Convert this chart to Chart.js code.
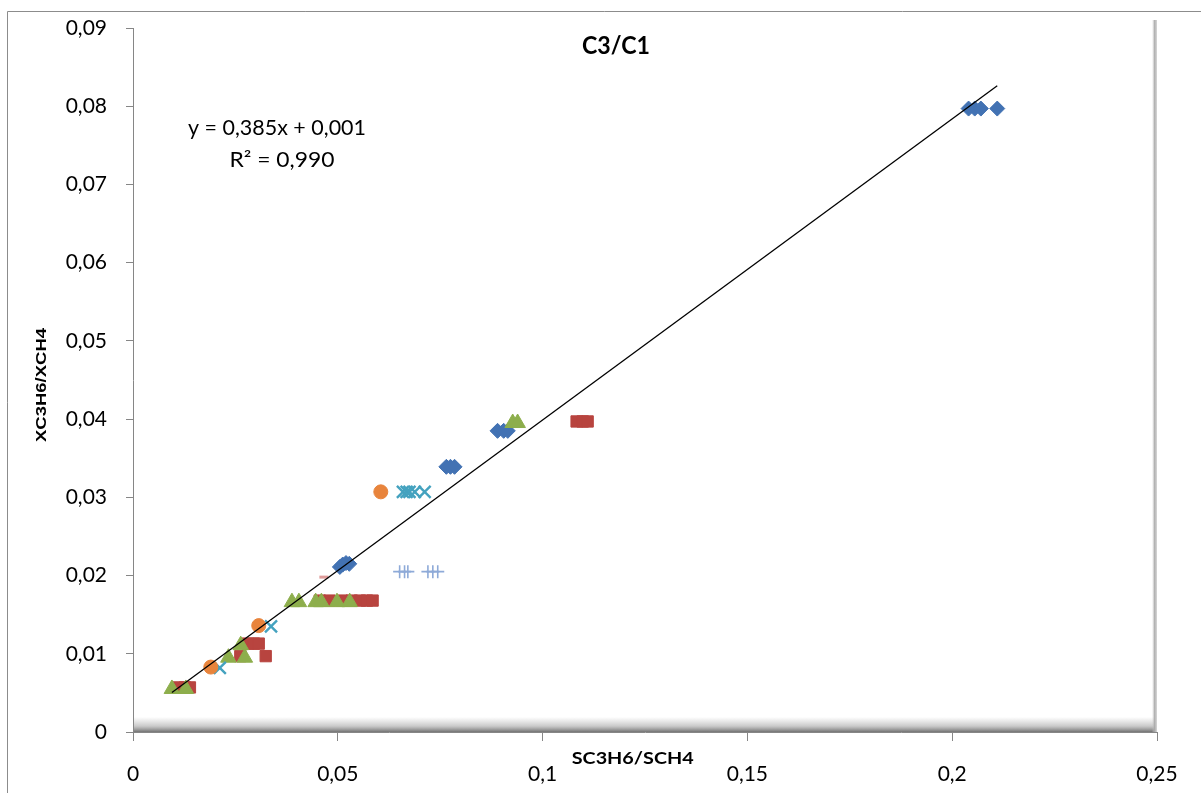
<!DOCTYPE html>
<html>
<head>
<meta charset="utf-8">
<title>C3/C1</title>
<script src="https://cdn.jsdelivr.net/npm/chart.js@4.4.1/dist/chart.umd.min.js"></script>
<style>
  html, body { margin: 0; padding: 0; background: #fff; }
  #wrap { width: 1201px; height: 793px; }
</style>
</head>
<body>
<div id="wrap"><canvas id="myChart" width="1201" height="793"></canvas></div>
<script>
// series values (x = SC3H6/SCH4, y = XC3H6/XCH4)
const blueX = [0.204, 0.2055, 0.207, 0.211, 0.089, 0.0905, 0.0915, 0.0765, 0.0775, 0.0785, 0.0505, 0.0512, 0.052, 0.0528];
const blueY = [0.0797, 0.0797, 0.0797, 0.0797, 0.0385, 0.0385, 0.0385, 0.0339, 0.0339, 0.0339, 0.0211, 0.0214, 0.0216, 0.0215];

const redX = [0.1083, 0.1098, 0.111, 0.0456, 0.048, 0.051, 0.0534, 0.0554, 0.0571, 0.0585, 0.028, 0.0295, 0.0307, 0.0262, 0.0324, 0.011, 0.0127, 0.0139];
const redY = [0.0397, 0.0397, 0.0397, 0.0168, 0.0168, 0.0168, 0.0168, 0.0168, 0.0168, 0.0168, 0.0113, 0.0113, 0.0113, 0.0097, 0.0097, 0.0057, 0.0057, 0.0057];

const greenX = [0.0927, 0.0939, 0.0388, 0.0405, 0.0446, 0.046, 0.0498, 0.0529, 0.0263, 0.0233, 0.0273, 0.0095, 0.0129];
const greenY = [0.0395, 0.0395, 0.0166, 0.0166, 0.0166, 0.0166, 0.0166, 0.0166, 0.0111, 0.0095, 0.0095, 0.0055, 0.0055];

const aquaX = [0.0659, 0.0668, 0.0675, 0.0688, 0.0712, 0.0337, 0.0212];
const aquaY = [0.0307, 0.0307, 0.0307, 0.0307, 0.0307, 0.0135, 0.0082];

const orangeX = [0.0605, 0.0307, 0.019];
const orangeY = [0.0307, 0.0136, 0.0083];

const plusX = [0.0651, 0.0663, 0.0671, 0.072, 0.0732, 0.0744];
const plusY = [0.0205, 0.0205, 0.0205, 0.0205, 0.0205, 0.0205];

const dashX = [0.0466];
const dashY = [0.0198];

// linear trend y = a*x + b (shown rounded to 3 decimals)
const trendSlope = 0.3849;
const trendIntercept = 0.0014;
const trendR2 = 0.990;

const xTicks = [0, 0.05, 0.1, 0.15, 0.2, 0.25];
const yTicks = [0, 0.01, 0.02, 0.03, 0.04, 0.05, 0.06, 0.07, 0.08, 0.09];

const toPoints = (xs, ys) => xs.map((x, i) => ({ x: x, y: ys[i] }));
const comma = (v) => Number(v.toFixed(2)).toString().replace('.', ',');
const fixed3 = (v) => v.toFixed(3).replace('.', ',');

const allX = [].concat(blueX, redX, greenX, aquaX, orangeX, plusX, dashX);
const trendFrom = Math.min(...allX);
const trendTo = Math.max(...allX);
const trendLine = [trendFrom, trendTo].map((x) => ({ x: x, y: trendSlope * x + trendIntercept }));

// fits a string into a given width (canvas text, optionally rotated)
function fitText(ctx, text, cx, cy, width, font, rotate) {
  ctx.save();
  ctx.font = font;
  const w = ctx.measureText(text).width;
  ctx.translate(cx, cy);
  if (rotate) ctx.rotate(-Math.PI / 2);
  ctx.scale(width / w, 1);
  ctx.textAlign = 'center';
  ctx.textBaseline = 'middle';
  ctx.fillStyle = '#000';
  ctx.fillText(text, 0, 0);
  ctx.restore();
}

const decor = {
  id: 'decor',
  beforeDraw(chart) {
    const ctx = chart.ctx;
    ctx.save();
    ctx.fillStyle = '#fff';
    ctx.fillRect(0, 0, chart.width, chart.height);
    // outer frame
    ctx.strokeStyle = '#8c8c8c';
    ctx.lineWidth = 1;
    ctx.beginPath();
    ctx.moveTo(7.5, chart.height);
    ctx.lineTo(7.5, 11.5);
    ctx.lineTo(chart.width, 11.5);
    ctx.stroke();
    ctx.restore();
  },
  beforeDatasetsDraw(chart) {
    const ctx = chart.ctx;
    const a = chart.chartArea;
    ctx.save();
    // floor shadow
    let g = ctx.createLinearGradient(0, a.bottom - 15, 0, a.bottom);
    g.addColorStop(0, 'rgba(160,160,160,0)');
    g.addColorStop(0.6, 'rgba(150,150,150,0.5)');
    g.addColorStop(1, 'rgba(115,115,115,1)');
    ctx.fillStyle = g;
    ctx.fillRect(a.left + 1, a.bottom - 15, a.right - a.left - 1, 15);
    // right wall
    g = ctx.createLinearGradient(a.right - 5, 0, a.right, 0);
    g.addColorStop(0, 'rgba(200,200,200,0)');
    g.addColorStop(0.5, 'rgba(170,170,170,0.9)');
    g.addColorStop(1, 'rgba(215,215,215,1)');
    ctx.fillStyle = g;
    ctx.fillRect(a.right - 5, a.top - 8, 5, a.bottom - a.top + 8);
    ctx.restore();
  },
  afterDraw(chart) {
    const ctx = chart.ctx;
    const xs = chart.scales.x;
    fitText(ctx, 'C3/C1', 616, 46, 68, 'bold 24px Lato');
    fitText(ctx, 'y = ' + fixed3(trendSlope) + 'x + ' + fixed3(trendIntercept), 277, 128, 178, '21px Lato');
    fitText(ctx, 'R² = ' + fixed3(trendR2), 282, 160, 105, '21px Lato');
    fitText(ctx, 'SC3H6/SCH4', xs.getPixelForValue(0.122), 759, 122, 'bold 17px Lato');
    fitText(ctx, 'XC3H6/XCH4', 42, 385, 114, 'bold 14px "Liberation Sans"', true);
  }
};

const markerSet = (color, style, radius, extra) => Object.assign({
  pointStyle: style,
  pointRadius: radius,
  pointHoverRadius: radius,
  backgroundColor: color,
  borderColor: color,
  borderWidth: 1,
  showLine: false
}, extra || {});

const ctx = document.getElementById('myChart');

new Chart(ctx, {
  type: 'scatter',
  data: {
    datasets: [
      Object.assign({ label: 'trend', data: trendLine, order: 1 },
        { showLine: true, pointRadius: 0, borderColor: '#000', borderWidth: 1.3, backgroundColor: '#000' }),
      Object.assign({ label: 's8', data: toPoints(dashX, dashY), order: 2 }, markerSet('#df9c9a', 'line', 4.5, { borderWidth: 3 })),
      Object.assign({ label: 's7', data: toPoints(plusX, plusY), order: 3 }, markerSet('#8eaad8', 'cross', 6.5, { borderWidth: 1.6 })),
      Object.assign({ label: 's6', data: toPoints(orangeX, orangeY), order: 4 }, markerSet('#e8843c', 'circle', 7)),
      Object.assign({ label: 's5', data: toPoints(aquaX, aquaY), order: 5 }, markerSet('#44a2bf', 'crossRot', 8.5, { borderWidth: 2.4 })),
      Object.assign({ label: 's3', data: toPoints(greenX, greenY), order: 6 }, markerSet('#8dae4c', 'triangle', 9)),
      Object.assign({ label: 's2', data: toPoints(redX, redY), order: 7 }, markerSet('#b8443f', 'rect', 8)),
      Object.assign({ label: 's1', data: toPoints(blueX, blueY), order: 8 }, markerSet('#4272b3', 'rectRot', 7.5))
    ]
  },
  options: {
    responsive: false,
    animation: false,
    events: [],
    layout: { padding: { top: 28, right: 44, bottom: 0, left: 0 } },
    plugins: {
      legend: { display: false },
      tooltip: { enabled: false }
    },
    scales: {
      x: {
        type: 'linear',
        min: 0,
        max: 0.25,
        afterBuildTicks: (scale) => { scale.ticks = xTicks.map((v) => ({ value: v })); },
        afterFit: (scale) => { scale.height = 61; scale.paddingLeft = 0; scale.paddingRight = 0; },
        border: { color: '#868686', width: 1 },
        grid: { drawOnChartArea: false, drawTicks: true, tickLength: 9, color: '#868686' },
        ticks: {
          padding: 21,
          color: '#000',
          font: { family: 'Lato', size: 21 },
          maxRotation: 0,
          callback: (v) => comma(v)
        }
      },
      y: {
        type: 'linear',
        min: 0,
        max: 0.09,
        afterBuildTicks: (scale) => { scale.ticks = yTicks.map((v) => ({ value: v })); },
        afterFit: (scale) => { scale.width = 133; scale.paddingTop = 0; scale.paddingBottom = 0; },
        border: { color: '#868686', width: 1 },
        grid: { drawOnChartArea: false, drawTicks: true, tickLength: 7, color: '#868686' },
        ticks: {
          padding: 19,
          color: '#000',
          font: { family: 'Lato', size: 21 },
          callback: (v) => comma(v)
        }
      }
    }
  },
  plugins: [decor]
});
</script>
</body>
</html>
